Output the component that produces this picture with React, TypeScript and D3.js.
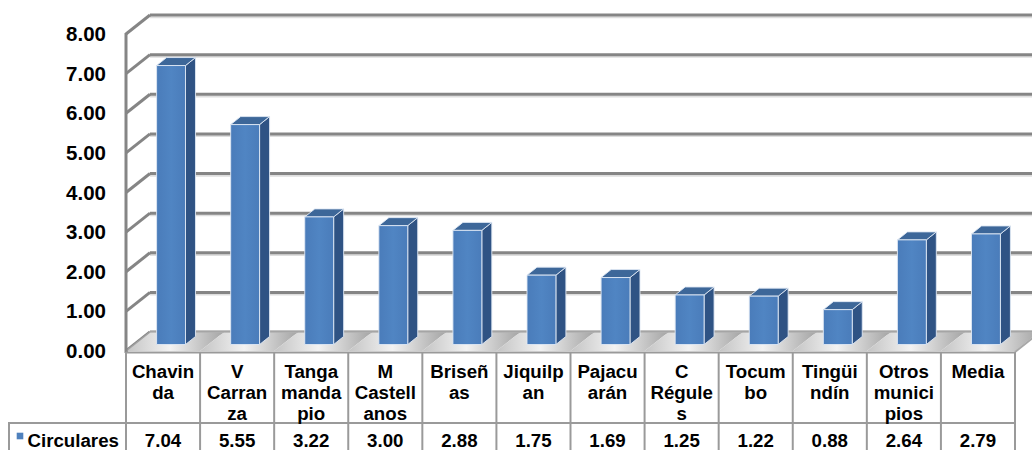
import React from "react";
import * as d3 from "d3";

const categories: string[][] = [
  ["Chavin", "da"],
  ["V", "Carran", "za"],
  ["Tanga", "manda", "pio"],
  ["M", "Castell", "anos"],
  ["Briseñ", "as"],
  ["Jiquilp", "an"],
  ["Pajacu", "arán"],
  ["C", "Régule", "s"],
  ["Tocum", "bo"],
  ["Tingüi", "ndín"],
  ["Otros", "munici", "pios"],
  ["Media"],
];
const values: number[] = [7.04, 5.55, 3.22, 3.0, 2.88, 1.75, 1.69, 1.25, 1.22, 0.88, 2.64, 2.79];
const valueLabels: string[] = ["7.04", "5.55", "3.22", "3.00", "2.88", "1.75", "1.69", "1.25", "1.22", "0.88", "2.64", "2.79"];
const yTicks: number[] = [0, 1, 2, 3, 4, 5, 6, 7, 8];
const seriesName = "Circulares";

const W = 1032;
const H = 450;
const FONT = "'Liberation Sans', Arial, Helvetica, sans-serif";

export default function App() {
  const x = d3.scaleBand<number>().domain(values.map((_, i) => i)).range([126, 1015]).padding(0);
  const y = d3.scaleLinear().domain([0, 8]).range([351, 34]);
  const DX = 24, DY = -19; // full depth
  const bDX = 8, bDY = -6.5; // bar front plane offset
  const dDX = 10, dDY = -8; // bar depth
  const bw = x.bandwidth() * 0.39;
  const x0 = x.range()[0];
  const x1 = x.range()[1];
  const gridColor = "#858585";
  const tableColor = "#9a9a9a";
  const floorY = y(0);

  return (
    <svg width={W} height={H} style={{ position: "absolute", left: 0, top: 0, background: "#fff" }}>
      <defs>
        <linearGradient id="floorG" x1="0" y1="0" x2="1" y2="0">
          <stop offset="0" stopColor="#c4c4c4" />
          <stop offset="0.45" stopColor="#f2f2f2" />
          <stop offset="1" stopColor="#a4a4a4" />
        </linearGradient>
        <linearGradient id="frontG" x1="0" y1="0" x2="1" y2="0">
          <stop offset="0" stopColor="#4a7cba" />
          <stop offset="0.5" stopColor="#5085c3" />
          <stop offset="1" stopColor="#4a7cba" />
        </linearGradient>
      </defs>

      {/* back wall gridlines */}
      {yTicks.map((t) => (
        <g key={"g" + t}>
          <line x1={x0 + DX} x2={W + 5} y1={y(t) + DY + 2.2} y2={y(t) + DY + 2.2} stroke="#dedede" strokeWidth={2} />
          <line x1={x0 + DX} x2={W + 5} y1={y(t) + DY} y2={y(t) + DY} stroke={gridColor} strokeWidth={3} />
          <line x1={x0} x2={x0 + DX} y1={y(t)} y2={y(t) + DY} stroke={gridColor} strokeWidth={3} />
        </g>
      ))}

      {/* floor per column */}
      {values.map((_, i) => {
        const xa = x(i)!;
        const xb = xa + x.bandwidth();
        return (
          <polygon
            key={"f" + i}
            points={`${xa},${floorY} ${xb},${floorY} ${xb + DX},${floorY + DY} ${xa + DX},${floorY + DY}`}
            fill="url(#floorG)"
          />
        );
      })}
      <line x1={x0 + DX} x2={W + 5} y1={floorY + DY} y2={floorY + DY} stroke="#b0b0b0" strokeWidth={1.5} />
      <line x1={x0} x2={x0 + DX} y1={floorY} y2={floorY + DY} stroke="#a0a0a0" strokeWidth={1.5} />
      <line x1={x1} x2={x1 + DX} y1={floorY + 1} y2={floorY + DY + 1} stroke="#a8a8a8" strokeWidth={2} />

      {/* front vertical axis */}
      <line x1={x0} x2={x0} y1={y(8) - 1} y2={floorY + 2} stroke={gridColor} strokeWidth={3} />

      {/* bars */}
      {values.map((v, i) => {
        const bx = x(i)! + x.bandwidth() / 2 - bw / 2 + bDX;
        const yt = y(v) + bDY;
        const yb = y(0) + bDY;
        return (
          <g key={"b" + i} stroke="#dfe8f4" strokeWidth={0.9} strokeLinejoin="round">
            <polygon
              points={`${bx + bw},${yt} ${bx + bw + dDX},${yt + dDY} ${bx + bw + dDX},${yb + dDY} ${bx + bw},${yb}`}
              fill="#2f5384"
            />
            <polygon
              points={`${bx},${yt} ${bx + dDX},${yt + dDY} ${bx + bw + dDX},${yt + dDY} ${bx + bw},${yt}`}
              fill="#3d6799"
            />
            <rect x={bx} y={yt} width={bw} height={yb - yt} fill="url(#frontG)" />
          </g>
        );
      })}

      {/* y tick labels */}
      {yTicks.map((t) => (
        <text
          key={"t" + t}
          x={106}
          y={y(t) + 7}
          textAnchor="end"
          fontFamily={FONT}
          fontWeight="bold"
          fontSize={20.5}
          fill="#000"
        >
          {t.toFixed(2)}
        </text>
      ))}

      {/* data table */}
      <line x1={x0} x2={x1} y1={352.5} y2={352.5} stroke={tableColor} strokeWidth={2} />
      <line x1={8} x2={x1} y1={423} y2={423} stroke={tableColor} strokeWidth={2} />
      <line x1={9} x2={9} y1={423} y2={H} stroke={tableColor} strokeWidth={2} />
      {values.map((_, i) => (
        <line key={"v" + i} x1={x(i)!} x2={x(i)!} y1={352} y2={H} stroke={tableColor} strokeWidth={2} />
      ))}
      <line x1={x1} x2={x1} y1={352} y2={H} stroke={tableColor} strokeWidth={2} />

      {categories.map((lines, i) =>
        lines.map((ln, j) => (
          <text
            key={"c" + i + "_" + j}
            x={x(i)! + x.bandwidth() / 2}
            y={377.7 + j * 21.2}
            textAnchor="middle"
            fontFamily={FONT}
            fontWeight="bold"
            fontSize={18.7}
            fill="#000"
          >
            {ln}
          </text>
        ))
      )}

      {valueLabels.map((lab, i) => (
        <text
          key={"l" + i}
          x={x(i)! + x.bandwidth() / 2}
          y={446.5}
          textAnchor="middle"
          fontFamily={FONT}
          fontWeight="bold"
          fontSize={18.7}
          fill="#000"
        >
          {lab}
        </text>
      ))}

      <rect x={16.7} y={432.7} width={6.6} height={6.6} fill="#4f81bd" />
      <text x={27.5} y={446.5} fontFamily={FONT} fontWeight="bold" fontSize={18.7} fill="#000">
        {seriesName}
      </text>
    </svg>
  );
}
